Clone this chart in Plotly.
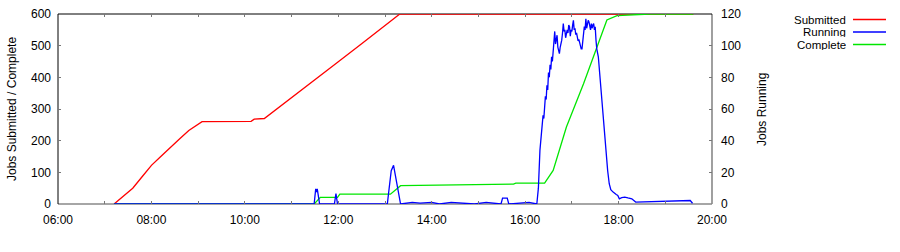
import plotly.graph_objects as go

DAY = "2020-01-01 "

# ---- Data ----
submitted_times = ["07:12", "07:24", "07:36", "07:48", "08:00", "08:12", "08:24", "08:36",
                   "08:48", "09:00", "09:05", "10:08", "10:12", "10:25", "11:00", "11:30",
                   "12:00", "12:30", "13:00", "13:19", "19:36"]
submitted_vals = [0, 24, 50, 86, 122, 150, 176, 205, 232, 253, 260, 261, 268, 270, 335, 392,
                  449, 506, 563, 600, 600]

complete_times = ["07:12", "11:29", "11:37", "11:59", "12:02", "13:07", "13:20", "15:45",
                  "15:48", "16:25", "16:36", "16:53", "17:15", "17:32", "17:45", "17:58",
                  "18:20", "18:40", "19:36"]
complete_vals = [0, 0, 21, 21, 31, 31, 58, 63, 66, 66, 106, 243, 380, 496, 581, 595, 598,
                 600, 600]

running_times = ["07:12", "11:29", "11:31", "11:32", "11:33", "11:36", "11:55", "11:57",
                 "11:59", "13:03", "13:05", "13:08", "13:11", "13:13", "13:16", "13:20",
                 "13:35", "13:45", "14:00", "14:10", "14:25", "14:40", "14:55", "15:10",
                 "15:20", "15:29", "15:31", "15:37", "15:39", "15:50", "16:05", "16:15",
                 "16:17", "16:19", "16:20:30", "16:22", "16:23", "16:24", "16:25", "16:26",
                 "16:27", "16:28", "16:29", "16:30", "16:31", "16:32", "16:33", "16:34",
                 "16:35", "16:36", "16:37", "16:38", "16:39", "16:40", "16:41", "16:42",
                 "16:43", "16:44", "16:45", "16:46", "16:47", "16:48", "16:49", "16:50",
                 "16:51", "16:52", "16:53", "16:54", "16:55", "16:56", "16:57", "16:58",
                 "16:59", "17:00", "17:01", "17:02", "17:03", "17:04", "17:05", "17:06",
                 "17:07", "17:08", "17:09", "17:10", "17:11", "17:12", "17:13", "17:14",
                 "17:15", "17:16", "17:17", "17:18", "17:19", "17:20", "17:21", "17:22",
                 "17:23", "17:24", "17:25", "17:26", "17:27", "17:28", "17:29", "17:30",
                 "17:31", "17:32", "17:34", "17:36", "17:38", "17:40", "17:42", "17:44",
                 "17:46", "17:48", "17:50", "17:53", "17:55", "17:57", "17:59", "18:01",
                 "18:04", "18:08", "18:12", "18:17", "18:22", "18:40", "18:58", "19:15",
                 "19:32", "19:35"]
running_vals = [0, 0, 9.6, 7.5, 9.6, 0, 0, 6.5,
                0, 0, 8.5, 21, 24.4, 19, 8.5, 0,
                1, 0.5, 1, 0, 1, 0.5, 0, 1,
                0.5, 0, 3.7, 3.7, 0, 0.5, 1, 0,
                10, 34, 42, 50, 56, 54, 62, 68,
                66, 75, 72, 83, 80, 88, 85, 93,
                90, 99, 104, 109, 101, 104, 106.6, 99,
                96, 95, 99, 101, 103.5, 108, 114, 109,
                110, 105, 106.7, 110, 108, 113, 112, 106,
                110, 109, 113, 116, 110, 111, 107, 108,
                105.6, 103, 104, 101.4, 100, 98, 98, 103,
                107.8, 112, 110, 117, 111, 113, 116, 115,
                112, 110, 114, 111, 113, 114, 110, 112,
                103.5, 98, 93, 80, 72, 58, 46.5, 34,
                21, 12.8, 9, 7.5, 6.5, 6, 5.4, 3.3,
                4, 4.3, 3.8, 3.3, 1.2, 1.4, 1.6, 1.8,
                2.2, 0.5]

x_tick_labels = ["06:00", "08:00", "10:00", "12:00", "14:00", "16:00", "18:00", "20:00"]

series_names = ["Submitted", "Running", "Complete"]
series_colors = ["#ff0000", "#0000ff", "#00e600"]

# ---- Layout constants (pixels) ----
W, H = 900, 252
L, R, T, B = 58, 712, 14, 204
PW, PH = R - L, B - T


def px_x(px):
    return (px - L) / PW


def px_y(py):
    return (B - py) / PH


def to_dt(ts):
    out = []
    for t in ts:
        out.append(DAY + (t if t.count(":") == 2 else t + ":00"))
    return out


fig = go.Figure()
fig.add_trace(go.Scatter(x=to_dt(submitted_times), y=submitted_vals, mode="lines",
                         name=series_names[0], line=dict(color=series_colors[0], width=1.3),
                         yaxis="y"))
fig.add_trace(go.Scatter(x=to_dt(complete_times), y=complete_vals, mode="lines",
                         name=series_names[2], line=dict(color=series_colors[2], width=1.3),
                         yaxis="y"))
fig.add_trace(go.Scatter(x=to_dt(running_times), y=running_vals, mode="lines",
                         name=series_names[1], line=dict(color=series_colors[1], width=1.3),
                         yaxis="y2"))

font = dict(family="Liberation Sans, Arial, sans-serif", size=12, color="black")
legend_font = dict(family="Liberation Sans, Arial, sans-serif", size=11.5, color="black")

tickvals = [DAY + t + ":00" for t in x_tick_labels]

fig.update_layout(
    width=W, height=H,
    margin=dict(l=L, r=W - R, t=T, b=H - B, pad=0, autoexpand=False),
    plot_bgcolor="white", paper_bgcolor="white",
    font=font,
    showlegend=False,
    xaxis=dict(type="date", range=[DAY + "06:00:00", DAY + "20:00:00"],
               tickvals=tickvals, ticktext=x_tick_labels,
               ticks="inside", ticklen=3, tickcolor="#777", mirror="ticks",
               minor=dict(dtick=3600000, ticks="inside", ticklen=3, tickcolor="#777"),
               showgrid=False, zeroline=False, showline=False, tickfont=font,
               ticklabelstandoff=7, automargin=False),
    yaxis=dict(range=[0, 600], dtick=100, ticks="inside", ticklen=3, tickcolor="#777",
               showgrid=False, zeroline=False, showline=False, tickfont=font,
               ticklabelstandoff=6, automargin=False),
    yaxis2=dict(range=[0, 120], dtick=20, overlaying="y", side="right",
                ticks="inside", ticklen=3, tickcolor="#777",
                showgrid=False, zeroline=False, showline=False, tickfont=font,
                ticklabelstandoff=8, automargin=False),
)

shapes = [
    dict(type="line", xref="paper", yref="paper", x0=0, x1=1, y0=0, y1=0,
         line=dict(color="#888", width=1.6), layer="below"),
    dict(type="line", xref="paper", yref="paper", x0=1, x1=1, y0=0, y1=1,
         line=dict(color="#888", width=1.6), layer="below"),
    dict(type="line", xref="paper", yref="paper", x0=0, x1=0, y0=0, y1=1,
         line=dict(color="black", width=1), layer="below"),
    dict(type="line", xref="paper", yref="paper", x0=0, x1=1, y0=1, y1=1,
         line=dict(color="black", width=1), layer="below"),
]
annotations = [
    dict(text="Jobs Submitted / Complete", xref="paper", yref="paper",
         x=px_x(12), y=0.5, textangle=-90, showarrow=False, font=font,
         xanchor="center", yanchor="middle"),
    dict(text="Jobs Running", xref="paper", yref="paper",
         x=px_x(762), y=0.5, textangle=-90, showarrow=False, font=font,
         xanchor="center", yanchor="middle"),
]

legend_rows = [19.5, 32, 44.5]
for name, color, row in zip(series_names, series_colors, legend_rows):
    annotations.append(dict(text=name, xref="paper", yref="paper", x=px_x(847), y=px_y(row),
                            xanchor="right", yanchor="middle", showarrow=False,
                            font=legend_font, height=11, borderpad=0, valign="middle"))
    shapes.append(dict(type="line", xref="paper", yref="paper", x0=px_x(853), x1=px_x(886),
                       y0=px_y(row), y1=px_y(row), line=dict(color=color, width=1.3)))

fig.update_layout(shapes=shapes, annotations=annotations)

fig.write_html("out.html")
